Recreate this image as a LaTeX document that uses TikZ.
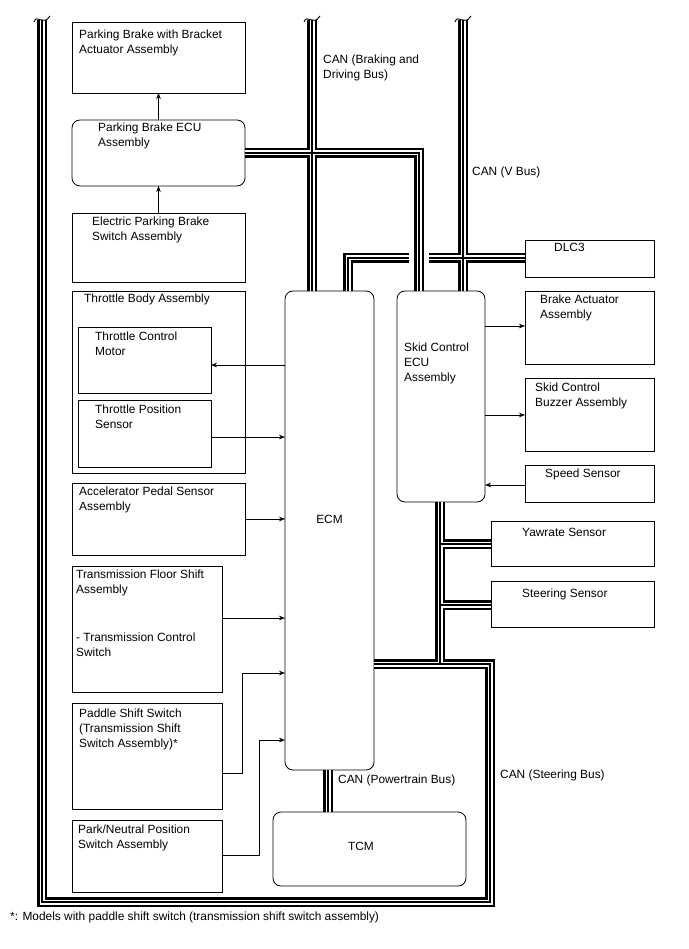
\documentclass[tikz,border=0pt]{standalone}
\usepackage{fontspec}
\setmainfont{Liberation Sans}
\usetikzlibrary{arrows.meta}
\newcommand\bx[6]{\node[box,#6,minimum width={#4pt-#2pt},minimum height={#5pt-#3pt}] (#1) at (#2,#3) {};}
\newcommand\allbus[1]{%
  % CAN (Steering Bus)
  \draw[#1] (ecm.east |- 0,664) -- (490,664) -- (490,902) -- (42,902) -- (lt);
  \draw[#1] (skid.south -| 440,0) -- (440,664);
  \draw[#1] (440,544) -- (yaw.west |- 0,544);
  \draw[#1] (440,605) -- (steer.west |- 0,605);
  % CAN (Braking and Driving Bus)
  \draw[#1] (bt) -- (ecm.north -| bt);
  \draw[#1] (pbecu.east |- 0,153) -- (419,153) -- (skid.north -| 419,0);
  % CAN (V Bus)
  \draw[#1] (vt) -- (skid.north -| vt);
  \draw[#1] (ecm.north -| 348,0) -- (348,258) -- (409,258);
  \draw[#1] (429,258) -- (dlc.west |- 0,258);
  % CAN (Powertrain Bus)
  \draw[#1] (ecm.south -| 328,0) -- (tcm.north -| 328,0);
}
\begin{document}
\begin{tikzpicture}[x=1pt,y=-1pt,
  box/.style={draw, line width=0.8pt, anchor=north west, inner sep=0pt, outer sep=0pt},
  rnd/.style={rounded corners=8pt},
  txt/.style={anchor=north west, align=left, inner sep=0pt, font=\fontsize{11.9}{14.8}\selectfont},
  ctxt/.style={anchor=center, inner sep=0pt, font=\fontsize{11.9}{14.8}\selectfont},
  arr/.style={line width=0.6pt, -{Stealth[length=6pt,width=4.5pt]}},
  squig/.style={line width=0.9pt}]
\useasboundingbox (0,0) rectangle (688,949);
% boxes
\bx{pbbr}{72}{22}{245}{93}{}
\bx{pbecu}{72}{120}{245}{186}{rnd}
\bx{epb}{72}{213}{245}{282}{}
\bx{thb}{72}{291}{245}{473}{}
\bx{tcmot}{78}{327}{211}{393}{}
\bx{tps}{78}{400}{211}{467}{}
\bx{acc}{72}{483}{245}{555}{}
\bx{tfs}{72}{566}{222}{692}{}
\bx{pad}{72}{703}{222}{809}{}
\bx{pns}{72}{820}{222}{892}{}
\bx{ecm}{285}{291}{374}{770}{rnd}
\bx{tcm}{273}{812}{466}{886}{rnd}
\bx{skid}{397}{291}{485}{502}{rnd}
\bx{dlc}{525}{240}{654}{277}{}
\bx{bact}{525}{291}{654}{364}{}
\bx{buz}{525}{378}{654}{451}{}
\bx{spd}{525}{465}{654}{502}{}
\bx{yaw}{491}{521}{654}{566}{}
\bx{steer}{491}{581}{654}{627}{}
% bus top ends
\coordinate (lt) at (42,20);
\coordinate (bt) at (312,20);
\coordinate (vt) at (463,20);
% buses drawn in layers
\allbus{line width=10pt, black, line join=miter}
\allbus{line width=5pt, white, line join=miter}
\allbus{line width=1.4pt, black, line join=miter}
% squiggles
\foreach \c in {42,312,463}{
  \draw[squig] (\c-8,22) .. controls (\c-5,13) and (\c+1,27) .. (\c+8,16);
}
% texts
\node[txt] (t1) at (79,30) {Parking Brake with Bracket\\Actuator Assembly};
\node[txt] (t2) at (98,123) {Parking Brake ECU\\Assembly};
\node[txt] (t3) at (92,217) {Electric Parking Brake\\Switch Assembly};
\node[txt] (t4) at (84,294) {Throttle Body Assembly};
\node[txt] (t5) at (95,331.5) {Throttle Control\\Motor};
\node[txt] (t6) at (95,404.5) {Throttle Position\\Sensor};
\node[txt] (t7) at (79,487) {Accelerator Pedal Sensor\\Assembly};
\node[txt] (t8) at (76,570) {Transmission Floor Shift\\Assembly};
\node[txt] (t8b) at (76,633) {- Transmission Control\\Switch};
\node[txt] (t9) at (79,709) {Paddle Shift Switch\\(Transmission Shift\\Switch Assembly)*};
\node[txt] (t10) at (78,825) {Park/Neutral Position\\Switch Assembly};
\node[ctxt] (t11) at (329.5,519) {ECM};
\node[ctxt] (t12) at (361,846) {TCM};
\node[txt] (t13) at (404,343) {Skid Control\\ECU\\Assembly};
\node[txt] (t14) at (554,243) {DLC3};
\node[txt] (t15) at (540,295) {Brake Actuator\\Assembly};
\node[txt] (t16) at (535,383) {Skid Control\\Buzzer Assembly};
\node[txt] (t17) at (545,469) {Speed Sensor};
\node[txt] (t18) at (522,528) {Yawrate Sensor};
\node[txt] (t19) at (522,589) {Steering Sensor};
\node[txt] (l1) at (323,55) {CAN (Braking and\\Driving Bus)};
\node[txt] (l2) at (472,167) {CAN (V Bus)};
\node[txt] (l3) at (338,775) {CAN (Powertrain Bus)};
\node[txt] (l4) at (500,770) {CAN (Steering Bus)};
\node[txt] (fn) at (10,912) {*: Models with paddle shift switch (transmission shift switch assembly)};
% arrows
\draw[arr] (pbecu.north) -- (pbbr.south);
\draw[arr] (epb.north) -- (pbecu.south);
\draw[arr] (ecm.west |- 0,365) -- (tcmot.east |- 0,365);
\draw[arr] (tps.east |- 0,437) -- (ecm.west |- 0,437);
\draw[arr] (acc.east |- 0,519) -- (ecm.west |- 0,519);
\draw[arr] (tfs.east |- 0,618) -- (ecm.west |- 0,618);
\draw[arr] (pad.east |- 0,773) -- (242,773) -- (242,673) -- (ecm.west |- 0,673);
\draw[arr] (pns.east |- 0,855) -- (259,855) -- (259,740) -- (ecm.west |- 0,740);
\draw[arr] (skid.east |- 0,326) -- (bact.west |- 0,326);
\draw[arr] (skid.east |- 0,415) -- (buz.west |- 0,415);
\draw[arr] (spd.west |- 0,485) -- (skid.east |- 0,485);
\end{tikzpicture}
\end{document}
